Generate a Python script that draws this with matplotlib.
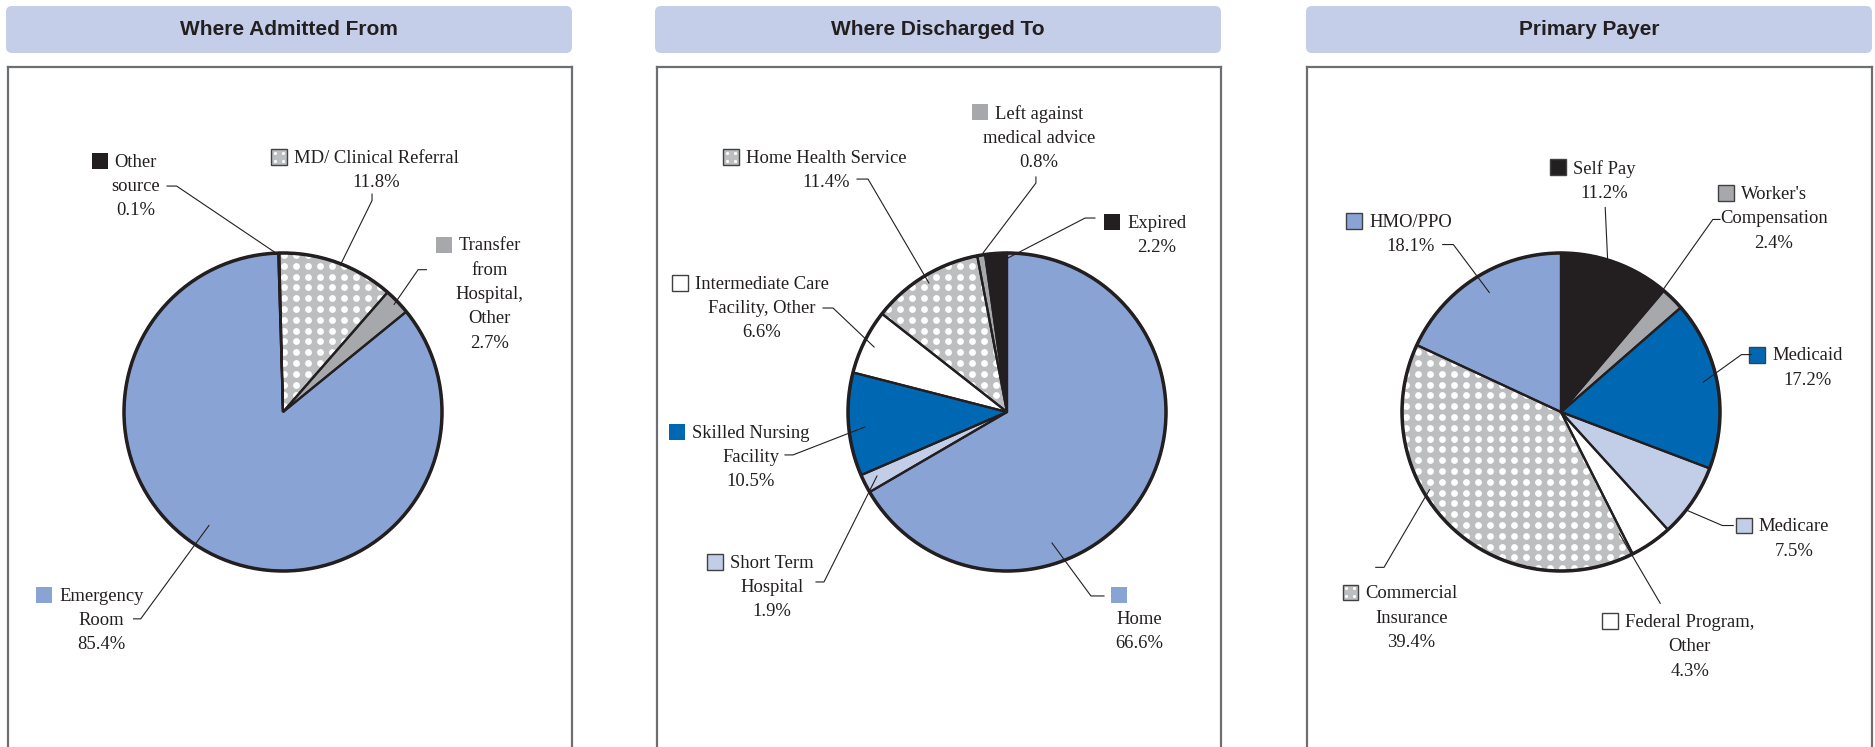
import numpy as np
import matplotlib.pyplot as plt
from matplotlib.patches import FancyBboxPatch, Rectangle, Circle

# figure is laid out in pixels (dpi 100)
W, H = 1875, 747
R = 159.0      # pie radius, px
CY = 412       # pie centre, px from top

fig = plt.figure(figsize=(W / 100, H / 100), dpi=100)

# colours
PERI = '#8aa3d5'
DBLUE = '#0068b3'
LBLUE = '#c2cde8'
GRAY = '#a6a8ab'
BLACK = '#231f20'
WHITE = '#ffffff'
DOTBG = '#bcbec0'
HEADER = '#c4cee9'
FRAME = '#6d6e71'

# ---- data ----
titles = ['Where Admitted From', 'Where Discharged To', 'Primary Payer']

admit_labels = ['Other\nsource', 'MD/ Clinical Referral', 'Transfer\nfrom\nHospital,\nOther',
                'Emergency\nRoom']
admit_values = [0.1, 11.8, 2.7, 85.4]
admit_colors = [BLACK, 'dots', GRAY, PERI]

disch_labels = ['Home', 'Short Term\nHospital', 'Skilled Nursing\nFacility',
                'Intermediate Care\nFacility, Other', 'Home Health Service',
                'Left against\nmedical advice', 'Expired']
disch_values = [66.6, 1.9, 10.5, 6.6, 11.4, 0.8, 2.2]
disch_colors = [PERI, LBLUE, DBLUE, WHITE, 'dots', GRAY, BLACK]

payer_labels = ['Self Pay', "Worker's\nCompensation", 'Medicaid', 'Medicare',
                'Federal Program,\nOther', 'Commercial\nInsurance', 'HMO/PPO']
payer_values = [11.2, 2.4, 17.2, 7.5, 4.3, 39.4, 18.1]
payer_colors = [BLACK, GRAY, DBLUE, LBLUE, WHITE, 'dots', PERI]

# ---- layout (radius units around the pie centre) ----
# (text x, first line y, leader points, fixed square or None)
admit_layout = [
    (-0.925, 1.579, [(-0.03, 0.99), (-0.669, 1.421), (-0.729, 1.421)], None),
    (0.586, 1.602, [(0.361, 0.925), (0.56, 1.33), (0.56, 1.37)], None),
    (1.301, 1.053, [(0.699, 0.677), (0.85, 0.895), (0.902, 0.895)], None),
    (-1.143, -1.150, [(-0.466, -0.714), (-0.895, -1.301), (-0.94, -1.301)], None),
]
disch_layout = [
    (0.83, -1.296, [(0.283, -0.824), (0.528, -1.157), (0.610, -1.157)], (0.704, -1.151)),
    (-1.478, -0.943, [(-0.818, -0.403), (-1.151, -1.069), (-1.201, -1.069)], None),
    (-1.610, -0.126, [(-0.893, -0.094), (-1.346, -0.270), (-1.396, -0.270)], None),
    (-1.541, 0.811, [(-0.836, 0.409), (-1.094, 0.654), (-1.157, 0.654)], None),
    (-1.138, 1.604, [(-0.491, 0.811), (-0.874, 1.465), (-0.943, 1.465)], None),
    (0.201, 1.887, [(-0.151, 1.0), (0.182, 1.440), (0.182, 1.478)], None),
    (0.943, 1.195, [(-0.02, 0.955), (0.491, 1.220), (0.553, 1.220)], None),
]
payer_layout = [
    (0.271, 1.541, [(0.301, 0.789), (0.278, 1.286)], None),
    (1.338, 1.376, [(0.624, 0.744), (0.955, 1.211), (1.0, 1.211)], None),
    (1.549, 0.361, [(0.895, 0.188), (1.135, 0.361), (1.195, 0.361)], None),
    (1.466, -0.714, [(0.789, -0.617), (1.015, -0.714), (1.083, -0.714)], None),
    (0.81, -1.316, [(0.368, -0.767), (0.624, -1.203)], None),
    (-0.94, -1.135, [(-0.827, -0.489), (-1.113, -0.977), (-1.165, -0.977)], None),
    (-0.947, 1.203, [(-0.451, 0.752), (-0.677, 1.053), (-0.744, 1.053)], None),
]

panels = [
    # labels, values, colours, layout, startangle, frame x0/x1, header x0/x1, centre x, boxed squares
    (admit_labels, admit_values, admit_colors, admit_layout, 91.7, (8, 572), (6, 572), 283, False),
    (disch_labels, disch_values, disch_colors, disch_layout, 90, (657, 1221), (655, 1221), 1007, False),
    (payer_labels, payer_values, payer_colors, payer_layout, 90, (1307, 1872), (1306, 1872), 1561, True),
]

serif = ['Liberation Serif', 'DejaVu Serif']
FS = 13.4
SQ = 0.1  # legend square size, radius units

renderer = fig.canvas.get_renderer()

for i, (labels, values, colors, layout, start, (fx0, fx1), (hx0, hx1), cx, boxed) in enumerate(panels):
    # header bar
    hy0, hy1 = 6, 53
    axh = fig.add_axes([hx0 / W, 1 - hy1 / H, (hx1 - hx0) / W, (hy1 - hy0) / H])
    axh.set_xlim(0, hx1 - hx0)
    axh.set_ylim(0, hy1 - hy0)
    axh.axis('off')
    axh.add_patch(FancyBboxPatch((0, 0), hx1 - hx0, hy1 - hy0,
                                 boxstyle='round,pad=0,rounding_size=6',
                                 fc=HEADER, ec='none'))
    axh.text((hx1 - hx0) / 2, (hy1 - hy0) / 2, titles[i], ha='center', va='center',
             fontsize=15, fontweight='bold', color=BLACK,
             family=['Liberation Sans', 'DejaVu Sans'])

    # pie panel
    ax = fig.add_axes([fx0 / W, 0, (fx1 - fx0) / W, (H - 67) / H])
    fills = [DOTBG if c == 'dots' else c for c in colors]
    wedges, _ = ax.pie(values, colors=fills, startangle=start, counterclock=False,
                       wedgeprops=dict(linewidth=0))
    # white dot texture on the dotted slices
    gx, gy = np.meshgrid(np.arange(-1.05, 1.05, 12 / R), np.arange(-1.05, 1.05, 10.8 / R))
    for w, c in zip(wedges, colors):
        if c == 'dots':
            sc = ax.scatter(gx.ravel(), gy.ravel(), s=24, c='white', lw=0, zorder=2)
            sc.set_clip_path(w)
    # slice outlines
    outl, _ = ax.pie(values, colors=fills, startangle=start, counterclock=False,
                     wedgeprops=dict(linewidth=1.6, edgecolor=BLACK, fill=False))
    for w in outl:
        w.set_zorder(3)
    ax.add_patch(Circle((0, 0), 1, fill=False, ec=BLACK, lw=2.5, zorder=4))

    ax.set_xlim((fx0 - cx) / R, (fx1 - cx) / R)
    ax.set_ylim((CY - H) / R, (CY - 67) / R)
    ax.set_aspect('auto')
    ax.set_frame_on(True)
    for s in ['left', 'top', 'right']:
        ax.spines[s].set_color(FRAME)
        ax.spines[s].set_linewidth(1.6)
    ax.spines['bottom'].set_visible(False)

    # labels
    for lab, v, c, (tx, ty, leader, sq) in zip(labels, values, colors, layout):
        ax.text(tx, ty + 0.045, f'{lab}\n{v}%', ha='center', va='top',
                fontsize=FS, family=serif, color=BLACK, linespacing=1.56, zorder=5)
        if sq is None:
            first = lab.split('\n')[0]
            probe = ax.text(tx, ty, first, ha='center', va='center', fontsize=FS, family=serif)
            bb = probe.get_window_extent(renderer)
            probe.remove()
            x_left = ax.transData.inverted().transform((bb.x0, 0))[0]
            sqx, sqy = x_left - 7 / R - SQ / 2, ty
        else:
            sqx, sqy = sq
        fc = DOTBG if c == 'dots' else c
        ec = '#404041' if (boxed or c in (WHITE, LBLUE, 'dots')) else 'none'
        ax.add_patch(Rectangle((sqx - SQ / 2, sqy - SQ / 2), SQ, SQ, fc=fc, ec=ec,
                               lw=1.0, zorder=5))
        if c == 'dots':
            d = SQ / 4
            ax.scatter([sqx - d, sqx + d, sqx - d, sqx + d], [sqy - d, sqy - d, sqy + d, sqy + d],
                       s=5, c='white', lw=0, zorder=6)
        lx, ly = zip(*leader)
        ax.plot(lx, ly, color=BLACK, lw=0.8, zorder=5)

fig.savefig('out.png', dpi=100)
